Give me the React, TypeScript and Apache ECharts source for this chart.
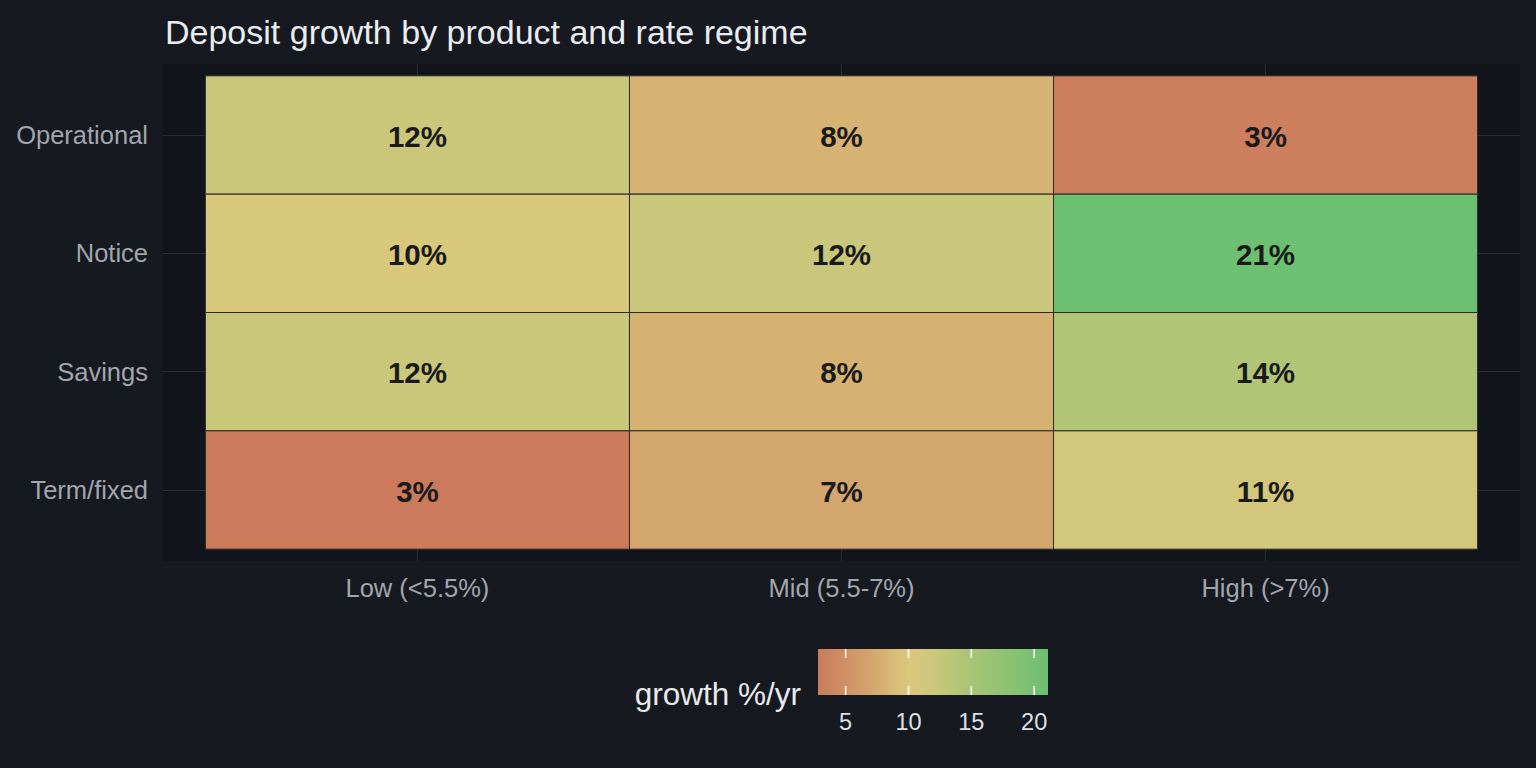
import React, { useEffect, useRef } from "react";
import * as echarts from "echarts";

// ---- data ----
const regimes = ["Low (<5.5%)", "Mid (5.5-7%)", "High (>7%)"];
const products = ["Operational", "Notice", "Savings", "Term/fixed"];
const operational = [12.0, 8.2, 3.2];
const notice = [10.4, 12.1, 21.1];
const savings = [12.2, 8.1, 14.3];
const termFixed = [2.8, 7.1, 11.0];
const legendTicks = [5, 10, 15, 20];

// ---- style ----
const FONT = '"Liberation Sans", Arial, Helvetica, sans-serif';
const colorAnchors: [number, string][] = [
  [2.8, "#cb7a5c"],
  [7, "#d3a56c"],
  [10, "#dbc87c"],
  [12, "#cbc77b"],
  [14, "#b3c576"],
  [21.1, "#6dbf71"],
];

function hexToRgb(h: string) {
  const n = parseInt(h.slice(1), 16);
  return [(n >> 16) & 255, (n >> 8) & 255, n & 255];
}
function colorAt(v: number) {
  const a = colorAnchors;
  if (v <= a[0][0]) return a[0][1];
  if (v >= a[a.length - 1][0]) return a[a.length - 1][1];
  for (let i = 0; i < a.length - 1; i++) {
    const [v0, c0] = a[i];
    const [v1, c1] = a[i + 1];
    if (v >= v0 && v <= v1) {
      const t = (v - v0) / (v1 - v0);
      const r0 = hexToRgb(c0);
      const r1 = hexToRgb(c1);
      const c = r0.map((x, k) => Math.round(x + (r1[k] - x) * t));
      return `rgb(${c[0]},${c[1]},${c[2]})`;
    }
  }
  return a[0][1];
}

export default function App() {
  const ref = useRef<HTMLDivElement>(null);
  useEffect(() => {
    if (!ref.current) return;
    const chart = echarts.init(ref.current, undefined, { renderer: "svg" });
    const rows = [operational, notice, savings, termFixed];
    const data = rows.flatMap((row, yi) => row.map((v, xi) => [xi, yi, v]));
    const all = rows.flat();
    const vmin = Math.min(...all);
    const vmax = Math.max(...all);
    const N = 48;
    const stops = Array.from({ length: N + 1 }, (_, i) => colorAt(vmin + ((vmax - vmin) * i) / N));

    // legend colourbar geometry
    const barX = 818, barY = 649, barW = 230, barH = 46;
    const px = (v: number) => barX + ((v - vmin) / (vmax - vmin)) * barW;
    const legendEls: any[] = [
      {
        type: "text",
        x: 801,
        y: 694,
        style: { text: "growth %/yr", fill: "#e8eaee", font: `31.5px ${FONT}`, align: "right", verticalAlign: "middle" },
      },
      {
        type: "rect",
        shape: { x: barX, y: barY, width: barW, height: barH },
        style: {
          fill: new echarts.graphic.LinearGradient(
            0, 0, 1, 0,
            stops.map((c, i) => ({ offset: i / N, color: c }))
          ),
        },
      },
    ];
    legendTicks.forEach((t) => {
      const x = px(t);
      legendEls.push(
        { type: "line", shape: { x1: x, y1: barY, x2: x, y2: barY + 9 }, style: { stroke: "#ffffff", lineWidth: 1.5 } },
        { type: "line", shape: { x1: x, y1: barY + barH - 9, x2: x, y2: barY + barH }, style: { stroke: "#ffffff", lineWidth: 1.5 } },
        {
          type: "text",
          x,
          y: 722,
          style: { text: String(t), fill: "#dde0e5", font: `23.5px ${FONT}`, align: "center", verticalAlign: "middle" },
        }
      );
    });

    chart.setOption({
      animation: false,
      backgroundColor: "#16191f",
      title: {
        text: "Deposit growth by product and rate regime",
        left: 160,
        top: 10,
        textStyle: { color: "#e9ecf0", fontSize: 34, fontWeight: "normal", fontFamily: FONT },
      },
      grid: {
        left: 163,
        top: 64,
        width: 1357,
        height: 497,
        show: true,
        backgroundColor: "#11141b",
        borderWidth: 0,
      },
      xAxis: {
        type: "value",
        min: -0.6,
        max: 2.6,
        axisLine: { show: false },
        axisTick: { show: false, customValues: [0, 1, 2] },
        axisLabel: {
          customValues: [0, 1, 2],
          formatter: (v: number) => regimes[Math.round(v)] ?? "",
          color: "#a2a6ad",
          fontSize: 25.5,
          fontFamily: FONT,
          margin: 14,
        },
        splitLine: { show: true, lineStyle: { color: "#2a2e36", width: 1 } },
      },
      yAxis: {
        type: "value",
        min: -0.6,
        max: 3.6,
        inverse: true,
        axisLine: { show: false },
        axisTick: { show: false, customValues: [0, 1, 2, 3] },
        axisLabel: {
          customValues: [0, 1, 2, 3],
          formatter: (v: number) => products[Math.round(v)] ?? "",
          color: "#a2a6ad",
          fontSize: 25.5,
          fontFamily: FONT,
          margin: 15,
        },
        splitLine: { show: true, lineStyle: { color: "#2a2e36", width: 1 } },
      },
      visualMap: {
        show: false,
        type: "continuous",
        min: vmin,
        max: vmax,
        dimension: 2,
        seriesIndex: 0,
        inRange: { color: stops },
      },
      series: [
        {
          type: "custom",
          data,
          encode: { x: 0, y: 1 },
          renderItem: (params: any, api: any) => {
            const xi = api.value(0);
            const yi = api.value(1);
            const v = api.value(2);
            const a = api.coord([xi - 0.5, yi - 0.5]);
            const b = api.coord([xi + 0.5, yi + 0.5]);
            const x = Math.min(a[0], b[0]);
            const y = Math.min(a[1], b[1]);
            const w = Math.abs(b[0] - a[0]);
            const h = Math.abs(b[1] - a[1]);
            return {
              type: "group",
              children: [
                {
                  type: "rect",
                  shape: { x, y, width: w, height: h },
                  style: { fill: api.visual("color"), stroke: "#2b2b2b", lineWidth: 1 },
                },
                {
                  type: "text",
                  x: x + w / 2,
                  y: y + h / 2 + 1,
                  style: {
                    text: Math.round(v) + "%",
                    fill: "#1a1a1a",
                    font: `bold 29.5px ${FONT}`,
                    align: "center",
                    verticalAlign: "middle",
                  },
                },
              ],
            };
          },
        },
      ],
      graphic: legendEls,
    });
    return () => chart.dispose();
  }, []);
  return (
    <div
      ref={ref}
      style={{ position: "fixed", left: 0, top: 0, width: "1536px", height: "768px" }}
    />
  );
}
